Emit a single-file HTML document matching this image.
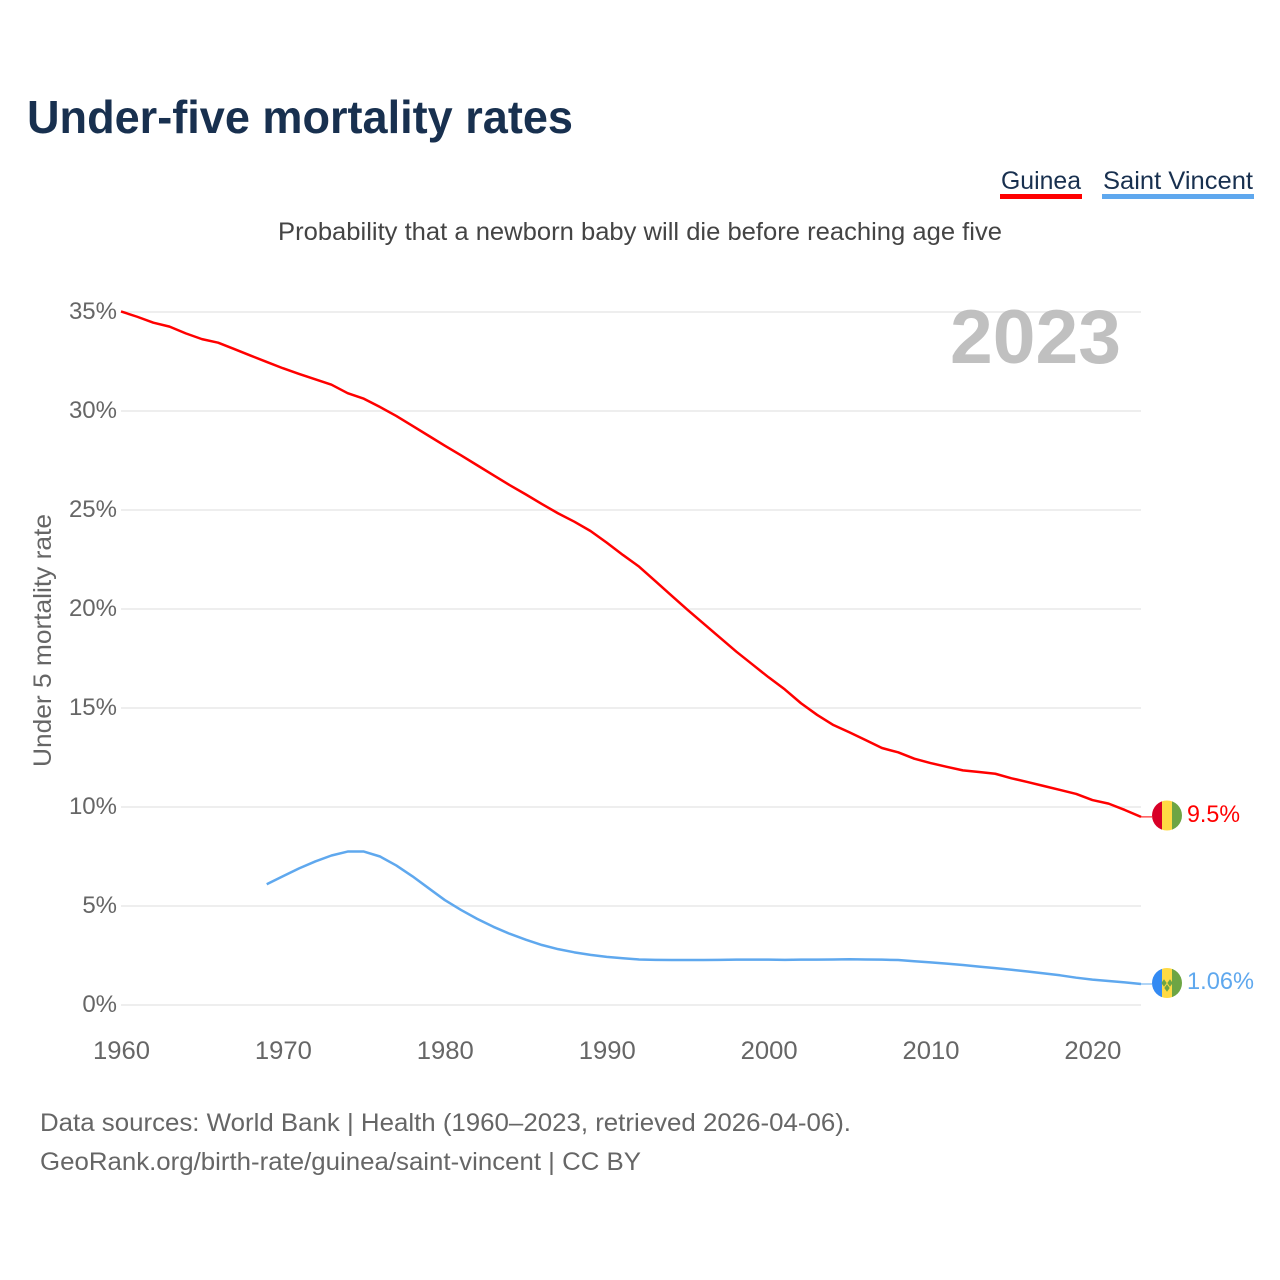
<!DOCTYPE html>
<html lang="en">
<head>
<meta charset="utf-8">
<title>Under-five mortality rates</title>
<style>
html,body{margin:0;padding:0;background:#fff;width:1280px;height:1280px;overflow:hidden}
svg{display:block}
text{font-family:"Liberation Sans",sans-serif}
</style>
</head>
<body>
<svg id="chart" xmlns="http://www.w3.org/2000/svg" width="1280" height="1280" viewBox="0 0 1280 1280">
  <rect x="0" y="0" width="1280" height="1280" fill="#fff"/>
  <text x="27" y="133" font-size="46" font-weight="700" fill="#18304f" textLength="546" lengthAdjust="spacingAndGlyphs">Under-five mortality rates</text>
  <g>
    <text x="1001" y="189" font-size="25" fill="#18304f" textLength="80" lengthAdjust="spacingAndGlyphs">Guinea</text>
    <rect x="1000" y="194" width="82" height="5" fill="#ff0000"/>
  </g>
  <g>
    <text x="1103" y="189" font-size="25" fill="#18304f" textLength="150" lengthAdjust="spacingAndGlyphs">Saint Vincent</text>
    <rect x="1102" y="194" width="152" height="5" fill="#5fa8ee"/>
  </g>
  <text x="278" y="240" font-size="25" fill="#444" textLength="724" lengthAdjust="spacingAndGlyphs">Probability that a newborn baby will die before reaching age five</text>
  <g id="grid"></g>
  <g id="yticks"></g>
  <g id="xticks"></g>
  <text transform="translate(51,767) rotate(-90)" x="0" y="0" font-size="25" fill="#666" textLength="253" lengthAdjust="spacingAndGlyphs">Under 5 mortality rate</text>
  <text x="950" y="363" font-size="76" font-weight="700" fill="#c0c0c0" textLength="171" lengthAdjust="spacingAndGlyphs">2023</text>
  <g id="series"></g>
  <defs>
    <clipPath id="flag-clip-a"><circle cx="1167" cy="815.500" r="15"/></clipPath>
    <clipPath id="flag-clip-b"><circle cx="1167" cy="983" r="15"/></clipPath>
  </defs>
  <g id="flag-guinea" clip-path="url(#flag-clip-a)">
    <rect x="1152" y="800" width="10" height="31" fill="#d80027"/>
    <rect x="1162" y="800" width="10" height="31" fill="#ffda44"/>
    <rect x="1172" y="800" width="10" height="31" fill="#6da544"/>
  </g>
  <g id="flag-saint-vincent" clip-path="url(#flag-clip-b)">
    <rect x="1152" y="968" width="10" height="31" fill="#338af3"/>
    <rect x="1162" y="968" width="10" height="31" fill="#ffda44"/>
    <rect x="1172" y="968" width="10" height="31" fill="#6da544"/>
    <path d="M1164 979.300l2.700 3.700-2.700 3.700-2.700-3.700zM1170 979.300l2.700 3.700-2.700 3.700-2.700-3.700zM1167 984.300l2.700 3.700-2.700 3.700-2.700-3.700z" fill="#6da544"/>
  </g>
  <text x="1187" y="822" font-size="24" fill="#ff0000" textLength="53" lengthAdjust="spacingAndGlyphs">9.5%</text>
  <text x="1187" y="989" font-size="24" fill="#5fa8ee" textLength="67" lengthAdjust="spacingAndGlyphs">1.06%</text>
  <text x="40" y="1131" font-size="25" fill="#666" textLength="811" lengthAdjust="spacingAndGlyphs">Data sources: World Bank | Health (1960–2023, retrieved 2026-04-06).</text>
  <text x="40" y="1170" font-size="25" fill="#666" textLength="601" lengthAdjust="spacingAndGlyphs">GeoRank.org/birth-rate/guinea/saint-vincent | CC BY</text>
</svg>
<script>
const guineaStartYear = 1960;
const guineaValues = [35.03,34.76,34.46,34.26,33.92,33.63,33.45,33.13,32.8,32.48,32.16,31.87,31.6,31.33,30.9,30.62,30.2,29.75,29.25,28.75,28.25,27.76,27.26,26.76,26.26,25.79,25.3,24.83,24.41,23.94,23.35,22.73,22.14,21.41,20.68,19.95,19.25,18.55,17.85,17.2,16.55,15.94,15.24,14.65,14.14,13.77,13.38,12.98,12.76,12.44,12.22,12.03,11.85,11.77,11.68,11.45,11.26,11.06,10.86,10.66,10.35,10.17,9.85,9.5];
const saintVincentStartYear = 1969;
const saintVincentValues = [6.1,6.5,6.9,7.25,7.55,7.75,7.75,7.5,7.05,6.5,5.9,5.3,4.8,4.35,3.95,3.6,3.3,3.03,2.82,2.66,2.53,2.43,2.36,2.3,2.28,2.27,2.27,2.27,2.28,2.29,2.29,2.29,2.28,2.29,2.29,2.3,2.31,2.3,2.29,2.27,2.21,2.15,2.09,2.02,1.94,1.86,1.78,1.69,1.6,1.5,1.38,1.28,1.21,1.14,1.06];
const yTickValues = [0,5,10,15,20,25,30,35];
const yTickLabels = ["0%","5%","10%","15%","20%","25%","30%","35%"];
const xTickValues = [1960,1970,1980,1990,2000,2010,2020];
const xTickLabels = ["1960","1970","1980","1990","2000","2010","2020"];

const SVGNS = 'http://www.w3.org/2000/svg';
function xScale(year){ return 121 + (year - 1960) * (1141 - 121) / 63; }
function yScale(v){ return 1005 - v * (1005 - 312) / 35; }

const grid = document.getElementById('grid');
const yticks = document.getElementById('yticks');
const xticks = document.getElementById('xticks');
const series = document.getElementById('series');

yTickValues.forEach(function(v, i){
  const line = document.createElementNS(SVGNS, 'line');
  
  
  line.setAttribute('x1', 121);
  line.setAttribute('x2', 1141);
  line.setAttribute('y1', yScale(v));
  line.setAttribute('y2', yScale(v));
  line.setAttribute('stroke', '#eeeeee');
  line.setAttribute('stroke-width', '2');
  grid.appendChild(line);

  const t = document.createElementNS(SVGNS, 'text');
  
  
  t.setAttribute('x', 117);
  t.setAttribute('y', yScale(v) + 7);
  t.setAttribute('text-anchor', 'end');
  t.setAttribute('font-size', '24');
  t.setAttribute('fill', '#666');
  t.textContent = yTickLabels[i];
  yticks.appendChild(t);
});

xTickValues.forEach(function(v, i){
  const t = document.createElementNS(SVGNS, 'text');
  
  
  t.setAttribute('x', xScale(v) + 0.5);
  t.setAttribute('y', 1059);
  t.setAttribute('text-anchor', 'middle');
  t.setAttribute('font-size', '25');
  t.setAttribute('textLength', '57');
  t.setAttribute('lengthAdjust', 'spacingAndGlyphs');
  t.setAttribute('fill', '#666');
  t.textContent = xTickLabels[i];
  xticks.appendChild(t);
});

function drawSeries(values, startYear, color, name){
  const pts = values.map(function(v, i){
    return xScale(startYear + i).toFixed(2) + ',' + yScale(v).toFixed(2);
  });
  const path = document.createElementNS(SVGNS, 'polyline');
  
  
  path.setAttribute('points', pts.join(' '));
  path.setAttribute('fill', 'none');
  path.setAttribute('stroke', color);
  path.setAttribute('stroke-width', '2.5');
  path.setAttribute('stroke-linejoin', 'round');
  series.appendChild(path);

  const last = values[values.length - 1];
  const conn = document.createElementNS(SVGNS, 'line');
  
  
  conn.setAttribute('x1', xScale(startYear + values.length - 1));
  conn.setAttribute('x2', 1152);
  conn.setAttribute('y1', yScale(last));
  conn.setAttribute('y2', yScale(last));
  conn.setAttribute('stroke', color);
  conn.setAttribute('stroke-width', '1');
  series.appendChild(conn);
}
drawSeries(guineaValues, guineaStartYear, '#ff0000', 'line-guinea');
drawSeries(saintVincentValues, saintVincentStartYear, '#5fa8ee', 'line-saint-vincent');
</script>
</body>
</html>
